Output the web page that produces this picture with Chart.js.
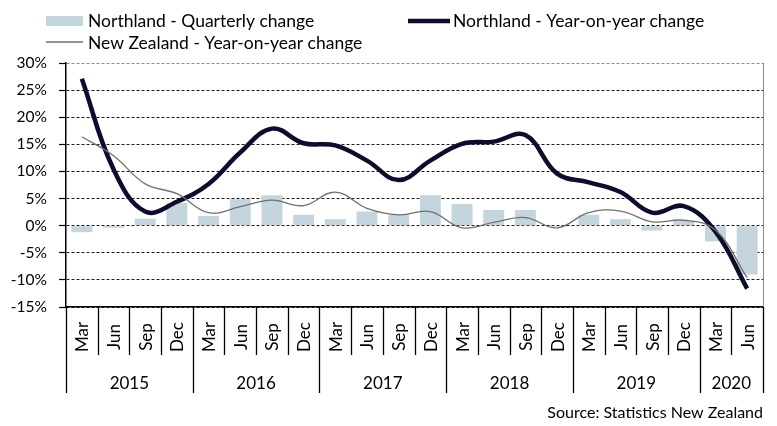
<!DOCTYPE html>
<html>
<head>
<meta charset="utf-8">
<script src="https://cdn.jsdelivr.net/npm/chart.js@4"></script>
<style>
  html, body { margin: 0; padding: 0; background: #ffffff; }
  #wrap { width: 777px; height: 426px; }
</style>
</head>
<body>
<div id="wrap"><canvas id="chart" width="777" height="426"></canvas></div>
<script>
// Quarter labels and year groups
var months = ["Mar", "Jun", "Sep", "Dec", "Mar", "Jun", "Sep", "Dec", "Mar", "Jun", "Sep", "Dec",
  "Mar", "Jun", "Sep", "Dec", "Mar", "Jun", "Sep", "Dec", "Mar", "Jun"];
var years = ["2015", "2016", "2017", "2018", "2019", "2020"];
var yearQuarters = [4, 4, 4, 4, 4, 2];

// Series (percent)
var northlandQuarterly = [-1.2, -0.4, 1.3, 4.2, 1.8, 4.9, 5.6, 2.0, 1.2, 2.6, 2.0, 5.6,
  4.0, 2.9, 2.9, -0.2, 2.0, 1.2, -0.9, 0.9, -2.9, -9.0];
var northlandYoY = [27.1, 10.4, 2.6, 4.4, 7.7, 13.5, 17.9, 15.2, 14.8, 12.0, 8.4, 12.0,
  15.1, 15.5, 16.7, 9.6, 8.0, 6.2, 2.4, 3.6, -1.1, -11.6];
var nzYoY = [16.4, 12.9, 7.7, 5.9, 2.4, 3.5, 4.7, 3.7, 6.2, 3.2, 2.0, 2.6,
  -0.4, 0.6, 1.5, -0.4, 2.4, 2.7, 0.7, 1.0, -0.8, -9.6];

var yTicks = [-15, -10, -5, 0, 5, 10, 15, 20, 25, 30];

var FONT = "Lato, 'Liberation Sans', sans-serif";
var barColor = "#c5d5de";
var navy = "#0c0c2c";
var grey = "#707070";

// draws legend, two-level x axis and source note
var extrasPlugin = {
  id: "extras",
  beforeDatasetsDraw: function (chart) {
    var ctx = chart.ctx;
    var a = chart.chartArea;
    ctx.save();
    ctx.strokeStyle = "#8c8c8c";
    ctx.lineWidth = 1;
    ctx.beginPath();
    ctx.moveTo(a.right + 0.5, a.top);
    ctx.lineTo(a.right + 0.5, a.bottom);
    ctx.stroke();
    ctx.restore();
  },
  afterDraw: function (chart) {
    var ctx = chart.ctx;
    var x = chart.scales.x;
    var a = chart.chartArea;
    var w = x.width / months.length;
    var base = a.bottom;
    ctx.save();
    ctx.strokeStyle = "#000";
    ctx.lineWidth = 1.3;
    ctx.fillStyle = "#000";

    // separators + month labels
    var yearStart = 0;
    var starts = [];
    for (var k = 0; k < yearQuarters.length; k++) {
      starts.push(yearStart);
      yearStart += yearQuarters[k];
    }
    for (var i = 0; i <= months.length; i++) {
      var sx = Math.round(x.left + i * w) + 0.5;
      var isYear = starts.indexOf(i) >= 0 || i == months.length;
      ctx.beginPath();
      ctx.moveTo(sx, base);
      ctx.lineTo(sx, isYear ? 393 : 355);
      ctx.stroke();
    }
    ctx.font = "17px " + FONT;
    ctx.textAlign = "center";
    ctx.textBaseline = "middle";
    for (var j = 0; j < months.length; j++) {
      var cx = x.getPixelForValue(j);
      ctx.save();
      ctx.translate(cx + 1, 337);
      ctx.rotate(-Math.PI / 2);
      ctx.fillText(months[j], 0, 0);
      ctx.restore();
    }
    // year labels
    for (var n = 0; n < years.length; n++) {
      var mid = x.left + (starts[n] + yearQuarters[n] / 2) * w;
      ctx.fillText(years[n], mid, 384);
    }

    // source
    ctx.font = "16px " + FONT;
    ctx.textAlign = "right";
    ctx.fillText("Source: Statistics New Zealand", 763, 413);

    // legend
    var ds = chart.data.datasets;
    ctx.font = "17.5px " + FONT;
    ctx.textAlign = "left";
    ctx.fillStyle = ds[0].backgroundColor;
    ctx.fillRect(46, 16, 37, 10);
    ctx.fillStyle = "#000";
    ctx.fillText(ds[0].label, 88, 21);

    ctx.strokeStyle = ds[1].borderColor;
    ctx.lineWidth = ds[1].borderWidth;
    ctx.beginPath();
    ctx.moveTo(408, 21);
    ctx.lineTo(450, 21);
    ctx.stroke();
    ctx.fillText(ds[1].label, 453, 21);

    ctx.strokeStyle = ds[2].borderColor;
    ctx.lineWidth = ds[2].borderWidth;
    ctx.beginPath();
    ctx.moveTo(46, 42);
    ctx.lineTo(83, 42);
    ctx.stroke();
    ctx.fillText(ds[2].label, 88, 43);
    ctx.restore();
  },
};

var chart = new Chart(document.getElementById("chart"), {
  type: "bar",
  data: {
    labels: months,
    datasets: [
      {
        type: "bar",
        label: "Northland - Quarterly change",
        data: northlandQuarterly,
        backgroundColor: barColor,
        categoryPercentage: 1,
        barPercentage: 0.66,
        order: 3,
      },
      {
        type: "line",
        label: "Northland - Year-on-year change",
        data: northlandYoY,
        borderColor: navy,
        borderWidth: 4.5,
        pointRadius: 0,
        tension: 0.4,
        fill: false,
        order: 2,
      },
      {
        type: "line",
        label: "New Zealand - Year-on-year change",
        data: nzYoY,
        borderColor: grey,
        borderWidth: 1.3,
        pointRadius: 0,
        tension: 0.4,
        fill: false,
        order: 1,
      },
    ],
  },
  options: {
    responsive: false,
    animation: false,
    devicePixelRatio: 1,
    layout: { padding: { top: 63, right: 14, left: 0, bottom: 0 } },
    plugins: {
      legend: { display: false },
      tooltip: { enabled: false },
    },
    scales: {
      x: {
        offset: true,
        grid: { display: false },
        ticks: { display: false },
        border: { color: "#000", width: 1.5 },
        afterFit: function (scale) {
          scale.height = 119;
        },
      },
      y: {
        min: -15,
        max: 30,
        afterBuildTicks: function (scale) {
          scale.ticks = yTicks.map(function (v) { return { value: v }; });
        },
        ticks: {
          color: "#000",
          padding: 12,
          font: { size: 15.5, family: FONT },
          callback: function (v) { return v + "%"; },
        },
        grid: {
          color: function (c) {
            return c.tick && c.tick.value == 30 ? "#8c8c8c" : "#1e1e1e";
          },
          lineWidth: 1,
          tickLength: 7,
          tickColor: "#000",
          tickWidth: 1.2,
        },
        border: { color: "#000", width: 1.5, dash: [3, 2] },
        afterFit: function (scale) {
          scale.width = 66;
        },
      },
    },
  },
  plugins: [extrasPlugin],
});
</script>
</body>
</html>
